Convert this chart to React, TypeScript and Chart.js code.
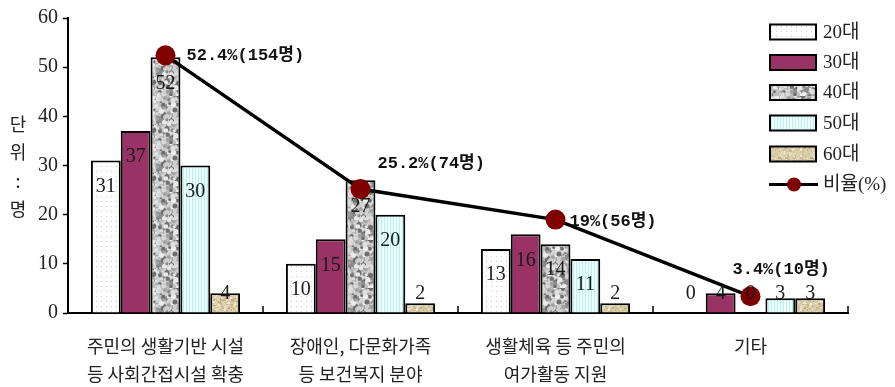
import React, { useEffect, useRef } from "react";
import { Chart, registerables } from "chart.js";
Chart.register(...registerables);

const categories: string[][] = [
  ["주민의 생활기반 시설", "등 사회간접시설 확충"],
  ["장애인, 다문화가족", "등 보건복지 분야"],
  ["생활체육 등 주민의", "여가활동 지원"],
  ["기타"],
];
const ageGroups = ["20대", "30대", "40대", "50대", "60대"];
const age20 = [31, 10, 13, 0];
const age30 = [37, 15, 16, 4];
const age40 = [52, 27, 14, 0];
const age50 = [30, 20, 11, 3];
const age60 = [4, 2, 2, 3];
const ratioName = "비율(%)";
const ratio = [52.4, 25.2, 19, 3.4];
const ratioLabels = ["52.4%(154명)", "25.2%(74명)", "19%(56명)", "3.4%(10명)"];
const yMin = 0;
const yMax = 60;
const yStep = 10;
const yTitle = ["단", "위", ":", "명"];

// label offsets relative to the ratio points (style only)
const ratioLabelOffsets = [
  [21, 0],
  [17, -25],
  [14, 2],
  [-18, -27],
];

function rng(seed: number) {
  let a = seed;
  return () => {
    a |= 0;
    a = (a + 0x6d2b79f5) | 0;
    let t = Math.imul(a ^ (a >>> 15), 1 | a);
    t = (t + Math.imul(t ^ (t >>> 7), 61 | t)) ^ t;
    return ((t ^ (t >>> 14)) >>> 0) / 4294967296;
  };
}

function makePatterns(ctx: CanvasRenderingContext2D) {
  const mk = (w: number, h: number, draw: (c: CanvasRenderingContext2D) => void) => {
    const cv = document.createElement("canvas");
    cv.width = w;
    cv.height = h;
    const c = cv.getContext("2d")!;
    draw(c);
    return ctx.createPattern(cv, "repeat")!;
  };
  const p20 = mk(5, 5, (c) => {
    c.fillStyle = "#ffffff";
    c.fillRect(0, 0, 5, 5);
    c.fillStyle = "#c8c8ee";
    c.fillRect(1, 1, 1, 1);
  });
  const p30 = "#993366";
  const p40 = mk(48, 48, (c) => {
    const r = rng(7);
    c.fillStyle = "#bdbdbd";
    c.fillRect(0, 0, 48, 48);
    const cols = ["#6e6e6e", "#8a8a8a", "#dedede", "#ececec", "#a0a0a0", "#cfcfcf", "#d6d6d6"];
    for (let i = 0; i < 380; i++) {
      c.fillStyle = cols[Math.floor(r() * cols.length)];
      c.beginPath();
      c.arc(r() * 48, r() * 48, 0.8 + r() * 2.0, 0, Math.PI * 2);
      c.fill();
    }
  });
  const p50 = mk(3, 3, (c) => {
    c.fillStyle = "#f4ffff";
    c.fillRect(0, 0, 3, 3);
    c.fillStyle = "#b0f4f4";
    c.fillRect(0, 0, 1, 3);
  });
  const p60 = mk(32, 32, (c) => {
    const r = rng(11);
    c.fillStyle = "#dccfae";
    c.fillRect(0, 0, 32, 32);
    const cols = ["#c9b98f", "#efe6cf", "#bfae88", "#e8dcc0", "#d4c49c"];
    for (let i = 0; i < 220; i++) {
      c.fillStyle = cols[Math.floor(r() * cols.length)];
      c.fillRect(Math.floor(r() * 32), Math.floor(r() * 32), 1 + Math.floor(r() * 3), 1 + Math.floor(r() * 2));
    }
  });
  return [p20, p30, p40, p50, p60];
}

const serif = "'Liberation Serif', 'Noto Sans CJK KR', serif";
const sansKR = "'Noto Sans CJK KR', sans-serif";

export default function App() {
  const ref = useRef<HTMLCanvasElement>(null);
  useEffect(() => {
    document.body.style.margin = "0";
    const canvas = ref.current!;
    const ctx0 = canvas.getContext("2d")!;
    const fills = makePatterns(ctx0);
    const series = [age20, age30, age40, age50, age60];

    const overlay = {
      id: "overlay",
      afterDatasetsDraw(chart: any) {
        const ctx = chart.ctx as CanvasRenderingContext2D;
        const area = chart.chartArea;
        const ys = chart.scales.y;
        ctx.save();
        // inner x ticks at category boundaries
        ctx.strokeStyle = "#000";
        ctx.lineWidth = 1.5;
        const n = categories.length;
        const w = (area.right - area.left) / n;
        for (let i = 1; i <= n; i++) {
          const x = Math.round(area.left + i * w);
          ctx.beginPath();
          ctx.moveTo(x, area.bottom);
          ctx.lineTo(x, area.bottom - 7);
          ctx.stroke();
        }
        // bar value labels
        const zeroY = ys.getPixelForValue(0);
        ctx.fillStyle = "#1a1a1a";
        ctx.font = `20px ${serif}`;
        ctx.textAlign = "center";
        ctx.textBaseline = "middle";
        for (let d = 0; d < series.length; d++) {
          const meta = chart.getDatasetMeta(d);
          meta.data.forEach((bar: any, i: number) => {
            const y = Math.min(bar.y + 26, zeroY - 19);
            ctx.fillText(String(series[d][i]), bar.x, y);
          });
        }
        // ratio labels
        const lmeta = chart.getDatasetMeta(5);
        ctx.fillStyle = "#111";
        ctx.font = `bold 17px 'Liberation Mono', 'Noto Sans CJK KR', monospace`;
        ctx.textAlign = "left";
        lmeta.data.forEach((pt: any, i: number) => {
          const [dx, dy] = ratioLabelOffsets[i];
          ctx.fillText(ratioLabels[i], pt.x + dx, pt.y + dy);
        });
        // y title, stacked
        ctx.fillStyle = "#222";
        ctx.font = `18px ${sansKR}`;
        ctx.textAlign = "center";
        yTitle.forEach((ch, i) => {
          ctx.fillText(ch, 18, 124 + i * 28.5);
        });
        // legend
        const lx = 770;
        const rowY = [32, 62.5, 92.5, 123, 154];
        ctx.font = `19px ${serif}`;
        ctx.textAlign = "left";
        ageGroups.forEach((g, i) => {
          const y = rowY[i];
          ctx.fillStyle = fills[i] as any;
          ctx.fillRect(lx, y - 7.5, 46, 15);
          ctx.strokeStyle = "#000";
          ctx.lineWidth = 2;
          ctx.strokeRect(lx, y - 7.5, 46, 15);
          ctx.fillStyle = "#222";
          ctx.fillText(g, lx + 53, y + 1);
        });
        const ly = 184.5;
        ctx.strokeStyle = "#000";
        ctx.lineWidth = 3;
        ctx.beginPath();
        ctx.moveTo(lx - 1, ly);
        ctx.lineTo(lx + 48, ly);
        ctx.stroke();
        ctx.fillStyle = "#800000";
        ctx.beginPath();
        ctx.arc(lx + 24, ly, 7, 0, Math.PI * 2);
        ctx.fill();
        ctx.fillStyle = "#222";
        ctx.fillText(ratioName, lx + 53, ly + 1);
        ctx.restore();
      },
    };

    const barDs = ageGroups.map((g, i) => ({
      type: "bar" as const,
      label: g,
      data: series[i],
      backgroundColor: fills[i] as any,
      borderColor: "#000",
      borderWidth: 2,
      categoryPercentage: 0.765,
      barPercentage: 1,
      order: 2,
    }));

    const chart = new Chart(canvas, {
      type: "bar",
      data: {
        labels: categories,
        datasets: [
          ...barDs,
          {
            type: "line" as const,
            label: ratioName,
            data: ratio,
            borderColor: "#000",
            borderWidth: 3.5,
            pointRadius: 10,
            pointBackgroundColor: "#800000",
            pointBorderColor: "#800000",
            pointBorderWidth: 0,
            fill: false,
            tension: 0,
            order: 1,
          } as any,
        ],
      },
      options: {
        animation: false,
        responsive: false,
        maintainAspectRatio: false,
        layout: { padding: { top: 18, right: 47, left: 0, bottom: 0 } },
        plugins: { legend: { display: false }, tooltip: { enabled: false } },
        scales: {
          x: {
            grid: { display: false, drawTicks: false },
            border: { display: true, color: "#000", width: 2 },
            ticks: {
              color: "#222",
              font: { family: sansKR, size: 18, lineHeight: 1.55 },
              padding: 19,
              maxRotation: 0,
              autoSkip: false,
            },
            afterFit: (s: any) => {
              s.height = 74;
            },
          },
          y: {
            min: yMin,
            max: yMax,
            ticks: {
              stepSize: yStep,
              color: "#222",
              font: { family: serif, size: 20 },
              padding: 5,
            },
            grid: { drawOnChartArea: false, drawTicks: true, tickLength: 5, color: "#000", tickWidth: 1.5 },
            border: { display: true, color: "#000", width: 2 },
            afterFit: (s: any) => {
              s.width = 68;
            },
          },
        },
      },
      plugins: [overlay],
    });
    return () => chart.destroy();
  }, []);
  return (
    <div style={{ width: 895, height: 387, background: "#fff" }}>
      <canvas ref={ref} width={895} height={387} style={{ display: "block" }} />
    </div>
  );
}
